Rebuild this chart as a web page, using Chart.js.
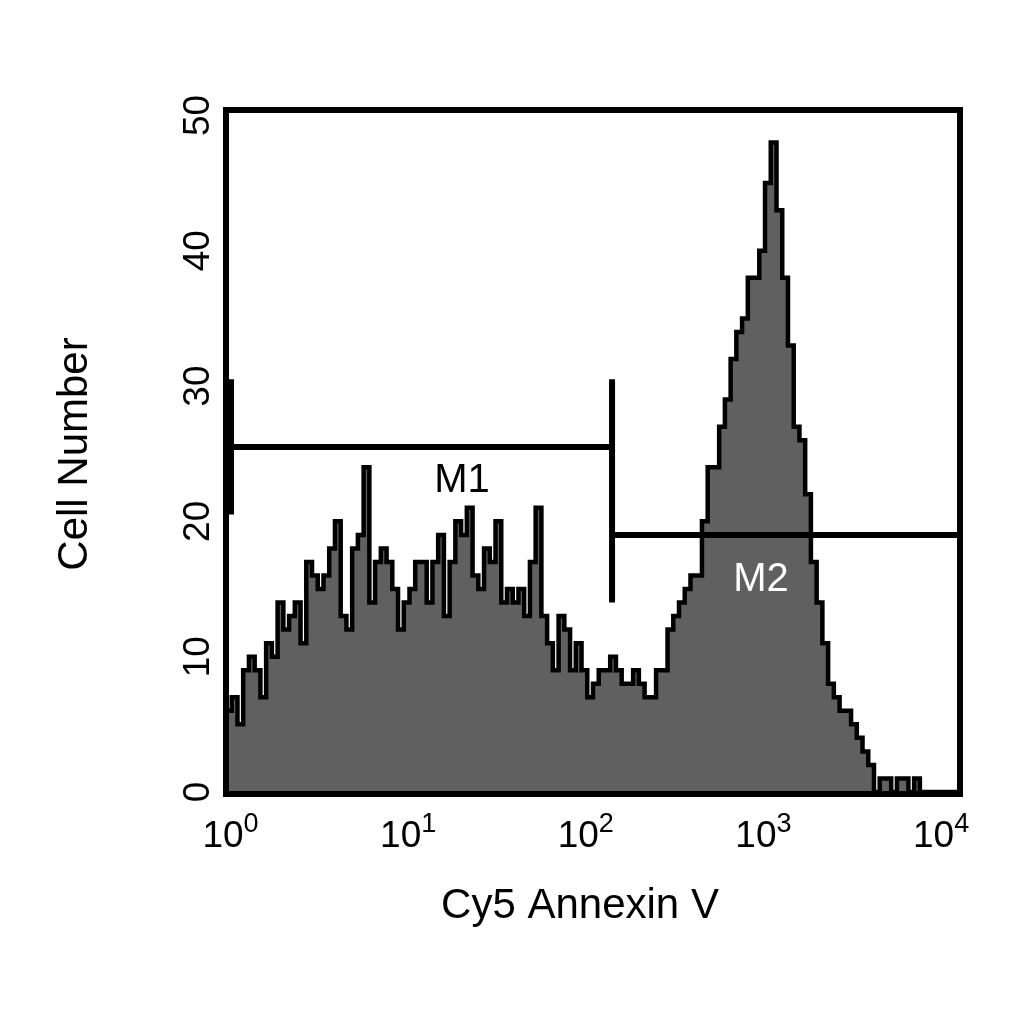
<!DOCTYPE html>
<html>
<head>
<meta charset="utf-8">
<script src="https://cdn.jsdelivr.net/npm/chart.js@4.4.1/dist/chart.umd.min.js"></script>
<style>
  html, body { margin: 0; padding: 0; background: #fff; }
  canvas { display: block; }
</style>
</head>
<body>
<canvas id="annexinChart" width="1024" height="1024"></canvas>
<script>
// Histogram counts, 128 channels spread evenly over 4 log decades (10^0 .. 10^4)
const decades = 4;
const cellCounts = [
  6, 7, 5, 9, 10, 9, 7, 11, 10, 14,
  12, 13, 14, 11, 17, 16, 15, 16, 18, 20,
  13, 12, 18, 19, 24, 14, 17, 18, 17, 15,
  12, 14, 15, 17, 17, 14, 17, 19, 13, 17,
  20, 19, 21, 16, 15, 18, 17, 20, 14, 15,
  14, 15, 13, 17, 21, 13, 11, 9, 13, 12,
  9, 11, 9, 7, 8, 9, 9, 10, 9, 8,
  8, 9, 8, 7, 7, 9, 9, 12, 13, 14,
  15, 16, 16, 20, 24, 24, 27, 29, 32, 34,
  35, 38, 38, 40, 45, 48, 43, 38, 33, 27,
  26, 22, 17, 14, 11, 8, 7, 6, 6, 5,
  4, 3, 2, 0, 1, 1, 0, 1, 1, 0,
  1, 0, 0, 0, 0, 0, 0, 0
];

// Gate markers (M1, M2)
const gateNames = ['M1', 'M2'];
const gateStarts = [1.065, 127];
const gateEnds = [127, 10000];
const gateLevels = [25.5, 19.0];

// Axis ticks
const xTickExponents = [0, 1, 2, 3, 4];
const yTickValues = [0, 10, 20, 30, 40, 50];
const xTitle = 'Cy5 Annexin V';
const yTitle = 'Cell Number';

const FONT = '"Liberation Sans", Arial, Helvetica, sans-serif';

// channel left edges -> stepped points
const histPoints = cellCounts.map((c, i) => ({ x: Math.pow(10, i * decades / cellCounts.length), y: c }));
histPoints.push({ x: Math.pow(10, decades), y: cellCounts[cellCounts.length - 1] });

// gate brackets: left tick, bar, right tick (null breaks the line)
const gatePoints = [];
gateNames.forEach((name, i) => {
    const lo = gateLevels[i] - 5, hi = gateLevels[i] + 5;
    gatePoints.push(
        { x: gateStarts[i], y: hi }, { x: gateStarts[i], y: lo }, { x: gateStarts[i], y: null },
        { x: gateStarts[i], y: gateLevels[i] }, { x: gateEnds[i], y: gateLevels[i] }, { x: gateEnds[i], y: null },
        { x: gateEnds[i], y: hi }, { x: gateEnds[i], y: lo }, { x: gateEnds[i], y: null }
    );
});

// frame, tick labels, titles and gate names
const decorations = {
    id: 'decorations',
    afterDatasetsDraw(chart) {
        const ctx = chart.ctx;
        const area = chart.chartArea;
        const xs = chart.scales.x;
        const ys = chart.scales.y;
        ctx.save();

        ctx.strokeStyle = '#000';
        ctx.lineWidth = 6;
        ctx.strokeRect(area.left, area.top, area.right - area.left, area.bottom - area.top + 2);

        ctx.fillStyle = '#000';

        // x tick labels 10^k (the original labels sit slightly left of the true decade)
        xTickExponents.forEach(k => {
            const center = xs.getPixelForValue(Math.pow(10, k)) + 4.5 - 5.85 * k;
            ctx.font = '37px ' + FONT;
            const wBase = ctx.measureText('10').width;
            ctx.font = '27px ' + FONT;
            const wSup = ctx.measureText(String(k)).width;
            const start = center - (wBase + wSup) / 2;
            ctx.textAlign = 'left';
            ctx.textBaseline = 'alphabetic';
            ctx.font = '37px ' + FONT;
            ctx.fillText('10', start, 847);
            ctx.font = '27px ' + FONT;
            ctx.fillText(String(k), start + wBase, 832);
        });

        // y tick labels, rotated
        ctx.font = '37px ' + FONT;
        ctx.textAlign = 'center';
        ctx.textBaseline = 'alphabetic';
        yTickValues.forEach(v => {
            ctx.save();
            ctx.translate(209, ys.getPixelForValue(v));
            ctx.rotate(-Math.PI / 2);
            ctx.fillText(String(v), 0, 0);
            ctx.restore();
        });

        // axis titles
        ctx.font = '42px ' + FONT;
        ctx.fillText(xTitle, 580, 918);
        ctx.save();
        ctx.translate(87, 454);
        ctx.rotate(-Math.PI / 2);
        ctx.fillText(yTitle, 0, 0);
        ctx.restore();

        // gate names
        ctx.font = '40px ' + FONT;
        ctx.fillStyle = '#000';
        ctx.fillText(gateNames[0], 462, 492);
        ctx.fillStyle = '#fff';
        ctx.fillText(gateNames[1], 761, 591);

        ctx.restore();
    }
};

new Chart(document.getElementById('annexinChart'), {
    type: 'line',
    data: {
        datasets: [{
            label: 'Gates',
            data: gatePoints,
            borderColor: '#000',
            borderWidth: 6,
            pointRadius: 0,
            fill: false,
            spanGaps: false,
            order: 0
        }, {
            label: 'Cell Number',
            data: histPoints,
            borderColor: '#000',
            borderWidth: 4.5,
            backgroundColor: '#606060',
            pointRadius: 0,
            stepped: true,
            fill: 'origin',
            order: 1
        }]
    },
    options: {
        responsive: false,
        animation: false,
        devicePixelRatio: 1,
        layout: {
            padding: { left: 226, right: 64, top: 110, bottom: 232 }
        },
        plugins: {
            legend: { display: false },
            tooltip: { enabled: false },
            title: { display: false }
        },
        scales: {
            x: {
                type: 'logarithmic',
                min: 1,
                max: 10000,
                display: false
            },
            y: {
                type: 'linear',
                min: 0,
                max: 50.4,
                display: false
            }
        }
    },
    plugins: [decorations]
});
</script>
</body>
</html>
